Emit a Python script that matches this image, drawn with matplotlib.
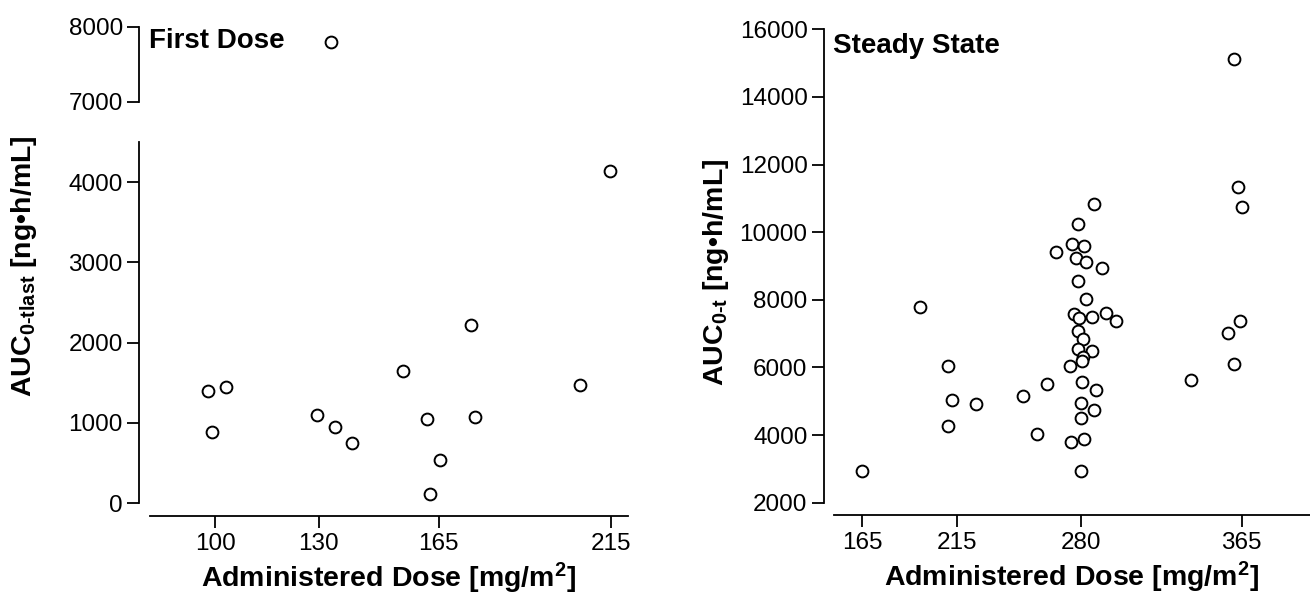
import matplotlib
matplotlib.use("Agg")
from matplotlib import pyplot as plt

plt.rcParams["font.family"] = ["Liberation Sans", "DejaVu Sans"]
plt.rcParams["mathtext.fontset"] = "custom"
plt.rcParams["mathtext.rm"] = "Liberation Sans:bold"
plt.rcParams["mathtext.bf"] = "Liberation Sans:bold"
plt.rcParams["mathtext.it"] = "Liberation Sans:bold"

# First dose
dose1 = [97.8, 103.1, 99.0, 129.7, 134.8, 139.6, 154.5, 161.5, 162.4, 165.4,
         174.2, 175.4, 206.0, 214.7, 133.6]
auc1 = [1400, 1450, 880, 1100, 950, 750, 1645, 1050, 110, 530,
        2215, 1075, 1475, 4140, 7800]
xticks1 = [100, 130, 165, 215]

# Steady state
dose2 = [287.0, 278.8, 275.6, 281.9, 267.3, 277.7, 283.0, 291.2, 278.8, 283.0,
         276.5, 279.1, 286.2, 293.6, 298.8, 278.8, 281.1, 278.8, 286.3, 281.1,
         280.7, 274.7, 280.9, 288.1, 262.1, 249.8, 280.2, 287.2, 280.0, 256.8,
         274.9, 281.9, 280.0, 224.7,
         360.8, 363.0, 365.0, 195.2, 209.9, 212.1, 209.9, 165.0, 338.1, 357.8,
         364.1, 360.8]
auc2 = [10830, 10240, 9640, 9600, 9420, 9240, 9130, 8950, 8560, 8030,
        7570, 7450, 7500, 7610, 7370, 7090, 6850, 6550, 6500, 6320,
        6190, 6040, 5580, 5330, 5510, 5160, 4940, 4750, 4510, 4040,
        3800, 3875, 2940, 4920,
        15130, 11350, 10750, 7780, 6030, 5040, 4280, 2930, 5620, 7020,
        7370, 6090]
xticks2 = [165, 215, 280, 365]

W, H = 1310, 594
fig = plt.figure(figsize=(W / 100, H / 100), dpi=100)

ax_bot = fig.add_axes([150 / W, 1 - 516 / H, 478 / W, (516 - 142) / H])
ax_top = fig.add_axes([150 / W, 1 - 102 / H, 478 / W, (102 - 20) / H])
ax_r = fig.add_axes([834 / W, 1 - 515 / H, 476 / W, (515 - 29.3) / H])

tick_kw = dict(labelsize=17.5, length=8.5, width=1.3, direction="out", pad=3)
mk = dict(marker="o", linestyle="none", markersize=8.5, markerfacecolor="white",
          markeredgecolor="black", markeredgewidth=1.4)

for ax in (ax_bot, ax_top, ax_r):
    for s in ("top", "right"):
        ax.spines[s].set_visible(False)
    ax.spines["left"].set_linewidth(1.3)
    ax.spines["bottom"].set_linewidth(1.3)
    ax.tick_params(**tick_kw)

lab_kw = dict(fontsize=20.5, fontweight="bold")
sub_y1 = r"AUC$_{\mathregular{0\text{-}tlast}}$ [ng•h/mL]"
sub_y2 = r"AUC$_{\mathregular{0\text{-}t}}$ [ng•h/mL]"
xlab = r"Administered Dose [mg/m$^{\mathregular{2}}$]"

# left panel, lower part
ax_bot.plot(dose1, auc1, **mk)
ax_bot.set_xlim(81, 220)
ax_bot.set_ylim(-162, 4500)
ax_bot.set_yticks([0, 1000, 2000, 3000, 4000])
ax_bot.spines["left"].set_bounds(0, 4500)
ax_bot.spines["left"].set_position(("outward", 8))
ax_bot.set_xticks(xticks1)
ax_bot.tick_params(axis="x", pad=4)

# left panel, upper part
ax_top.plot(dose1, auc1, **mk)
ax_top.set_xlim(81, 220)
ax_top.set_ylim(7000, 8093)
ax_top.set_yticks([7000, 8000])
ax_top.spines["left"].set_bounds(7000, 8000)
ax_top.spines["left"].set_position(("outward", 8))
ax_top.spines["bottom"].set_visible(False)
ax_top.set_xticks([])

fig.text(149 / W, 1 - 41 / H, "First Dose", fontsize=20, fontweight="bold",
         ha="left", va="center")
fig.text(24 / W, 1 - 266 / H, sub_y1, rotation=90, ha="center", va="center",
         **lab_kw)
ax_bot.set_xlabel(xlab, labelpad=4, **lab_kw)

# right panel
ax_r.plot(dose2, auc2, **mk)
ax_r.set_xlim(150, 401)
ax_r.set_ylim(1636, 16000)
ax_r.set_yticks(range(2000, 16001, 2000))
ax_r.spines["left"].set_bounds(2000, 16000)
ax_r.spines["left"].set_position(("outward", 7.5))
ax_r.set_xticks(xticks2)
ax_r.tick_params(axis="x", pad=4)
ax_r.set_ylabel(sub_y2, labelpad=6, **lab_kw)
ax_r.set_xlabel(xlab, labelpad=4, **lab_kw)
fig.text(833 / W, 1 - 46 / H, "Steady State", fontsize=20, fontweight="bold",
         ha="left", va="center")

fig.savefig("out.png", dpi=100)
